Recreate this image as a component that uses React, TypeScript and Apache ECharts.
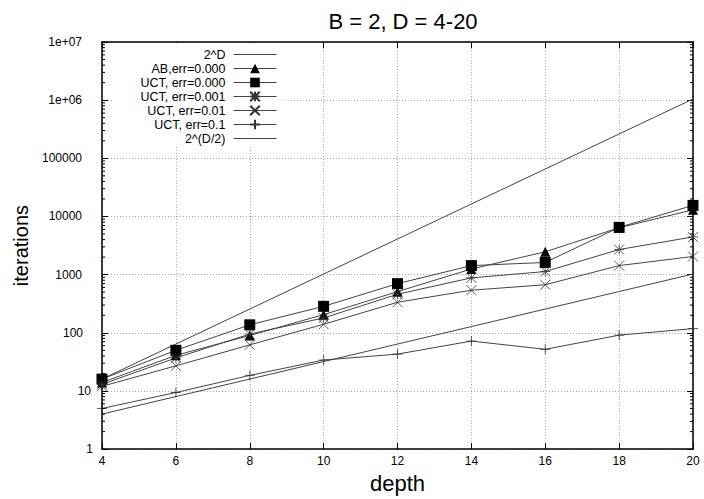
import React, { useEffect, useRef } from "react";
import * as echarts from "echarts";

const depths = [4, 6, 8, 10, 12, 14, 16, 18, 20];
const pow2D = [16, 64, 256, 1024, 4096, 16384, 65536, 262144, 1048576];
const abErr000 = [14, 41, 90, 205, 510, 1250, 2470, 6400, 13000];
const uctErr000 = [16, 50, 137, 285, 700, 1430, 1620, 6500, 15500];
const uctErr001 = [13, 37, 95, 180, 460, 880, 1130, 2700, 4450];
const uctErr01 = [12, 27, 62, 140, 335, 540, 670, 1430, 2050];
const uctErr1 = [5, 9.4, 18.5, 34, 43, 72, 52, 91, 118];
const pow2Half = [4, 8, 16, 32, 64, 128, 256, 512, 1024];

const yTickLabels = ["1", "10", "100", "1000", "10000", "100000", "1e+06", "1e+07"];
const decades = [1, 10, 100, 1000, 10000, 100000, 1000000];
const minorMultipliers = [2, 3, 4, 5, 6, 7, 8, 9];

const seriesNames = [
  "2^D",
  "AB,err=0.000",
  "UCT, err=0.000",
  "UCT, err=0.001",
  "UCT, err=0.01",
  "UCT, err=0.1",
  "2^(D/2)",
];

const FONT = "'Liberation Sans', Arial, Helvetica, sans-serif";
const LINE = "#444";

const starPath = "path://M0 0L10 10M10 0L0 10M5 0L5 10M0 5L10 5";
const crossPath = "path://M0 0L10 10M10 0L0 10";
const plusPath = "path://M5 0L5 10M0 5L10 5";

// extra right padding per tick label (mimics the reference's ragged alignment)
const labelPads = [1, 3, 11, 12, 12, 12, 12, 12];

export default function App() {
  const ref = useRef<HTMLDivElement>(null);
  useEffect(() => {
    if (!ref.current) return;
    const chart = echarts.init(ref.current, null, { renderer: "svg" });
    const pair = (arr: number[]) => depths.map((d, i) => [d, arr[i]]);
    const minorTicks: number[][] = [];
    decades.forEach((d) => minorMultipliers.forEach((m) => minorTicks.push([4, d * m])));

    const rich: Record<string, any> = {};
    labelPads.forEach((p, i) => {
      rich["p" + i] = { fontFamily: FONT, fontSize: 12, color: "#000", padding: [0, p, 0, 0] };
    });

    const lineSeries = (name: string, arr: number[], symbol: string, size: number, kind: string) => ({
      name,
      type: "line",
      data: pair(arr),
      symbol: symbol === "none" ? "circle" : symbol,
      symbolSize: size,
      showSymbol: symbol !== "none",
      clip: false,
      lineStyle: { color: LINE, width: 1 },
      itemStyle:
        kind === "filled"
          ? { color: "#000", borderColor: "#000", borderWidth: 0 }
          : kind === "stroke"
          ? { color: "rgba(0,0,0,0)", borderColor: "#333", borderWidth: 0.8 }
          : { color: "rgba(0,0,0,0)", borderColor: "rgba(0,0,0,0)", borderWidth: 0 },
      emphasis: { disabled: true },
      z: 3,
    });

    const yBase = {
      type: "log",
      logBase: 10,
      min: 1,
      max: 10000000,
      interval: 1,
      axisLine: { show: true, lineStyle: { color: "#000", width: 1.5 } },
      axisTick: { show: true, inside: true, length: 6, lineStyle: { color: "#000", width: 1 } },
      minorTick: { show: false },
    };
    const xBase = {
      type: "value",
      min: 4,
      max: 20,
      interval: 2,
      axisLine: { show: true, onZero: false, lineStyle: { color: "#000", width: 1.5 } },
      axisTick: { show: true, inside: true, length: 6, lineStyle: { color: "#000", width: 1 } },
    };

    chart.setOption({
      animation: false,
      backgroundColor: "#fff",
      title: {
        text: "B = 2, D = 4-20",
        left: 398,
        top: 5,
        textAlign: "center",
        textStyle: { fontFamily: FONT, fontSize: 22, fontWeight: "normal", color: "#000" },
      },
      grid: { left: 102, right: 11, top: 42, bottom: 45, containLabel: false },
      legend: {
        data: seriesNames,
        orient: "vertical",
        align: "right",
        right: 419,
        top: 43,
        itemWidth: 43,
        itemHeight: 12,
        itemGap: 1,
        lineStyle: { color: LINE, width: 1 },
        textStyle: { fontFamily: FONT, fontSize: 12.5, color: "#000", padding: [0, 3, 0, 0] },
        selectedMode: false,
        backgroundColor: "#fff",
        padding: [5, 8, 0, 28],
        z: 5,
      },
      xAxis: [
        {
          ...xBase,
          position: "bottom",
          name: "depth",
          nameLocation: "middle",
          nameGap: 21,
          nameTextStyle: { fontFamily: FONT, fontSize: 22, color: "#000" },
          axisLabel: { fontFamily: FONT, fontSize: 12, color: "#000", margin: 6 },
          splitLine: { show: true, lineStyle: { color: "#aaa", type: [1, 2], width: 1 } },
        },
        {
          ...xBase,
          position: "top",
          axisLabel: { show: false },
          splitLine: { show: false },
        },
      ],
      yAxis: [
        {
          ...yBase,
          position: "left",
          name: "iterations",
          nameLocation: "middle",
          nameGap: 58,
          nameTextStyle: { fontFamily: FONT, fontSize: 20, color: "#000" },
          axisLabel: {
            fontFamily: FONT,
            fontSize: 12,
            color: "#000",
            margin: 8,
            formatter: (v: number) => {
              const i = Math.round(Math.log10(v));
              return "{p" + i + "|" + (yTickLabels[i] ?? "") + "}";
            },
            rich,
          },
          splitLine: { show: true, lineStyle: { color: "#aaa", type: [1, 2], width: 1 } },
        },
        {
          ...yBase,
          position: "right",
          axisLabel: { show: false },
          splitLine: { show: false },
        },
      ],
      series: [
        lineSeries(seriesNames[0], pow2D, "none", 0, "none"),
        lineSeries(seriesNames[1], abErr000, "triangle", 10, "filled"),
        lineSeries(seriesNames[2], uctErr000, "rect", 11, "filled"),
        lineSeries(seriesNames[3], uctErr001, starPath, 10, "stroke"),
        lineSeries(seriesNames[4], uctErr01, crossPath, 10, "stroke"),
        lineSeries(seriesNames[5], uctErr1, plusPath, 10, "stroke"),
        lineSeries(seriesNames[6], pow2Half, "none", 0, "none"),
        {
          name: "minorTicks",
          type: "custom",
          data: minorTicks,
          silent: true,
          clip: false,
          z: 6,
          renderItem: (params: any, api: any) => {
            const v = api.value(1);
            const p = api.coord([4, v]);
            const q = api.coord([20, v]);
            return {
              type: "group",
              children: [
                { type: "line", shape: { x1: p[0], y1: p[1], x2: p[0] + 3, y2: p[1] }, style: { stroke: "#000", lineWidth: 1 } },
                { type: "line", shape: { x1: q[0], y1: q[1], x2: q[0] - 3, y2: q[1] }, style: { stroke: "#000", lineWidth: 1 } },
              ],
            };
          },
        },
      ],
    });
    return () => chart.dispose();
  }, []);
  return <div ref={ref} style={{ width: 704, height: 499, position: "absolute", left: 0, top: 0 }} />;
}
